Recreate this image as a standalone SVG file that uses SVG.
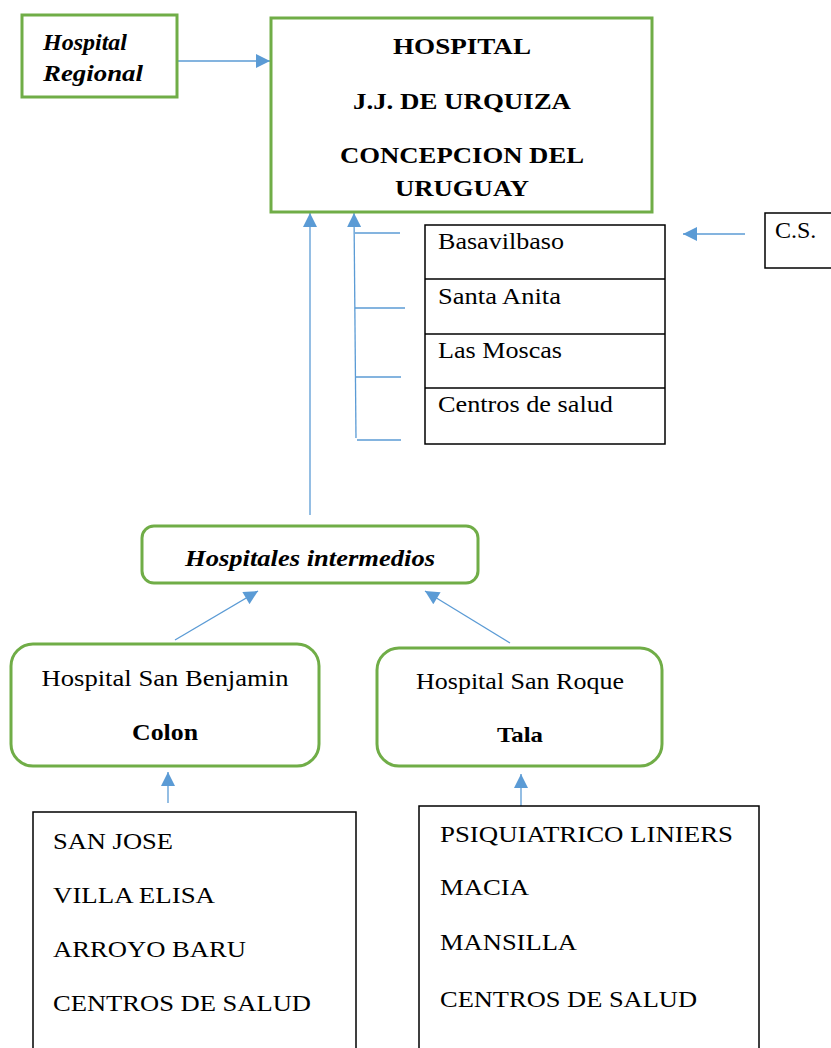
<svg xmlns="http://www.w3.org/2000/svg" width="831" height="1048" viewBox="0 0 831 1048">
<defs>
<marker id="ah" viewBox="0 0 10 10" refX="10" refY="5" markerWidth="16" markerHeight="14" markerUnits="userSpaceOnUse" orient="auto">
<path d="M0,0 L10,5 L0,10 z" fill="#5b9bd5"/>
</marker>
</defs>
<style>
.g{fill:#fff;stroke:#70ad47;stroke-width:3}
.b{fill:#fff;stroke:#000;stroke-width:1.5}
.c{stroke:#5b9bd5;stroke-width:1.3;fill:none}
text{font-family:'Liberation Serif','Times New Roman',Times,serif;font-size:24px;fill:#000}
.bd{font-weight:bold}
.it{font-style:italic}
.m{text-anchor:middle}
</style>
<rect width="831" height="1048" fill="#fff"/>
<g id="connectors">
<line class="c" x1="177" y1="61" x2="270" y2="61" marker-end="url(#ah)"/>
<line class="c" x1="310" y1="515" x2="310" y2="213" marker-end="url(#ah)"/>
<line class="c" x1="356" y1="438" x2="354" y2="213" marker-end="url(#ah)"/>
<line class="c" x1="355" y1="233" x2="400" y2="233"/>
<line class="c" x1="355" y1="308" x2="405" y2="308"/>
<line class="c" x1="356" y1="377" x2="401" y2="377"/>
<line class="c" x1="357" y1="440" x2="401" y2="440"/>
<line class="c" x1="745" y1="234" x2="683" y2="234" marker-end="url(#ah)"/>
<line class="c" x1="175" y1="640" x2="258" y2="591" marker-end="url(#ah)"/>
<line class="c" x1="510" y1="643" x2="425" y2="591" marker-end="url(#ah)"/>
<line class="c" x1="168" y1="803" x2="168" y2="772" marker-end="url(#ah)"/>
<line class="c" x1="521" y1="806" x2="521" y2="774" marker-end="url(#ah)"/>
</g>
<g id="hospital-regional">
<rect class="g" x="22" y="15" width="155" height="82"/>
<text class="bd it" x="43" y="50" textLength="84" lengthAdjust="spacingAndGlyphs">Hospital</text>
<text class="bd it" x="43" y="81" textLength="100" lengthAdjust="spacingAndGlyphs">Regional</text>
</g>
<g id="hospital-urquiza">
<rect class="g" x="271" y="18" width="381" height="194"/>
<text class="bd m" x="462" y="54" textLength="138" lengthAdjust="spacingAndGlyphs">HOSPITAL</text>
<text class="bd m" x="462" y="109" textLength="218" lengthAdjust="spacingAndGlyphs">J.J. DE URQUIZA</text>
<text class="bd m" x="462" y="163" textLength="244" lengthAdjust="spacingAndGlyphs">CONCEPCION DEL</text>
<text class="bd m" x="462" y="196" textLength="134" lengthAdjust="spacingAndGlyphs">URUGUAY</text>
</g>
<g id="centros-list">
<rect class="b" x="425" y="225" width="240" height="219"/>
<line stroke="#000" stroke-width="1.5" x1="425" y1="279" x2="665" y2="279"/>
<line stroke="#000" stroke-width="1.5" x1="425" y1="334" x2="665" y2="334"/>
<line stroke="#000" stroke-width="1.5" x1="425" y1="388" x2="665" y2="388"/>
<text x="438" y="249" textLength="126" lengthAdjust="spacingAndGlyphs">Basavilbaso</text>
<text x="438" y="304" textLength="123" lengthAdjust="spacingAndGlyphs">Santa Anita</text>
<text x="438" y="358" textLength="124" lengthAdjust="spacingAndGlyphs">Las Moscas</text>
<text x="438" y="412" textLength="175" lengthAdjust="spacingAndGlyphs">Centros de salud</text>
</g>
<g id="cs">
<rect class="b" x="765" y="213" width="70" height="55"/>
<text x="775" y="238">C.S.</text>
</g>
<g id="hospitales-intermedios">
<rect class="g" x="142" y="526" width="336" height="57" rx="12"/>
<text class="bd it m" x="310" y="566" textLength="250" lengthAdjust="spacingAndGlyphs">Hospitales intermedios</text>
</g>
<g id="san-benjamin">
<rect class="g" x="11" y="644" width="308" height="122" rx="22"/>
<text class="m" x="165" y="686" textLength="247" lengthAdjust="spacingAndGlyphs">Hospital San Benjamin</text>
<text class="bd m" x="165" y="740" textLength="66" lengthAdjust="spacingAndGlyphs">Colon</text>
</g>
<g id="san-roque">
<rect class="g" x="377" y="648" width="285" height="118" rx="22"/>
<text class="m" x="520" y="689" textLength="208" lengthAdjust="spacingAndGlyphs">Hospital San Roque</text>
<text class="bd m" x="520" y="742" textLength="46" lengthAdjust="spacingAndGlyphs" style="font-size:21px">Tala</text>
</g>
<g id="colon-list">
<rect class="b" x="33" y="812" width="323" height="245"/>
<text x="53" y="849" textLength="120" lengthAdjust="spacingAndGlyphs">SAN JOSE</text>
<text x="53" y="903" textLength="162" lengthAdjust="spacingAndGlyphs">VILLA ELISA</text>
<text x="53" y="957" textLength="193" lengthAdjust="spacingAndGlyphs">ARROYO BARU</text>
<text x="53" y="1011" textLength="258" lengthAdjust="spacingAndGlyphs">CENTROS DE SALUD</text>
</g>
<g id="tala-list">
<rect class="b" x="419" y="806" width="340" height="251"/>
<text x="440" y="842" textLength="293" lengthAdjust="spacingAndGlyphs">PSIQUIATRICO LINIERS</text>
<text x="440" y="895" textLength="89" lengthAdjust="spacingAndGlyphs">MACIA</text>
<text x="440" y="950" textLength="137" lengthAdjust="spacingAndGlyphs">MANSILLA</text>
<text x="440" y="1007" textLength="257" lengthAdjust="spacingAndGlyphs">CENTROS DE SALUD</text>
</g>
</svg>
